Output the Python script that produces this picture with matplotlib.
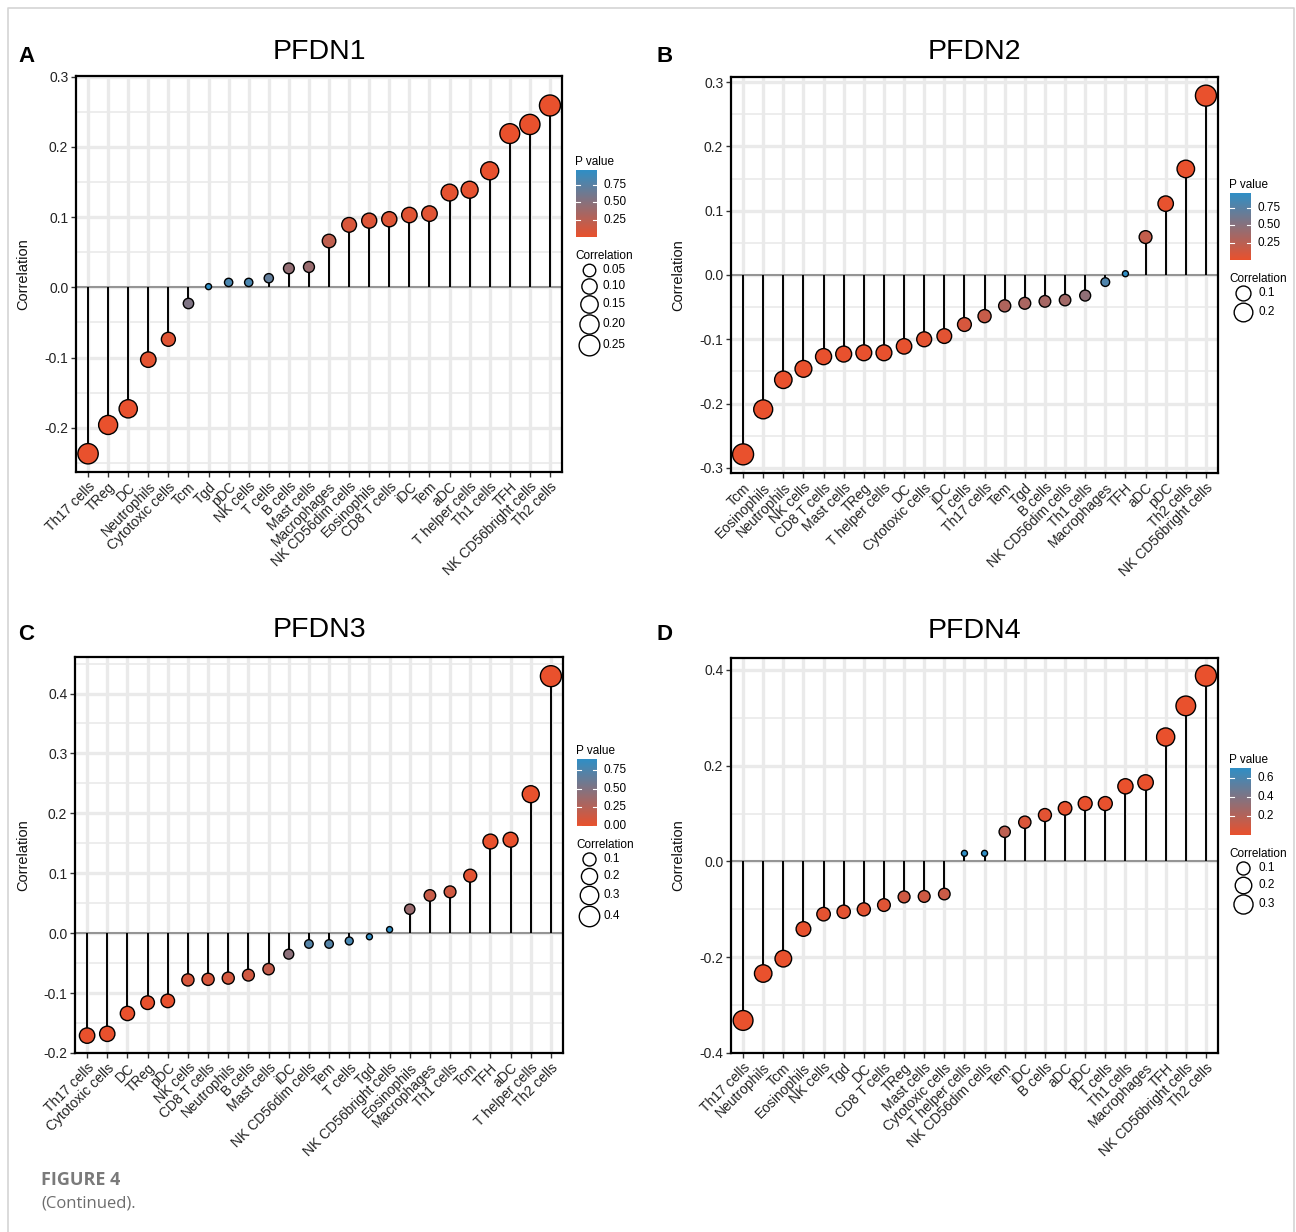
import numpy as np
import matplotlib.pyplot as plt
from matplotlib.colors import LinearSegmentedColormap, Normalize

plt.rcParams['font.family'] = ['Liberation Sans', 'DejaVu Sans']

W, H = 1296, 1232

# ---- datos ----
genes = ["PFDN1", "PFDN2", "PFDN3", "PFDN4"]
letters = ["A", "B", "C", "D"]

cells_a = ["Th17 cells", "TReg", "DC", "Neutrophils", "Cytotoxic cells", "Tcm", "Tgd", "pDC",
           "NK cells", "T cells", "B cells", "Mast cells", "Macrophages", "NK CD56dim cells",
           "Eosinophils", "CD8 T cells", "iDC", "Tem", "aDC", "T helper cells", "Th1 cells",
           "TFH", "NK CD56bright cells", "Th2 cells"]
cor_a = [-0.237, -0.196, -0.173, -0.103, -0.074, -0.023, 0.001, 0.007, 0.007, 0.013, 0.027,
         0.029, 0.066, 0.089, 0.095, 0.097, 0.103, 0.105, 0.135, 0.139, 0.166, 0.219, 0.232, 0.259]
p_a = [0.001, 0.002, 0.006, 0.03, 0.05, 0.55, 0.97, 0.82, 0.82, 0.70, 0.45, 0.42, 0.22, 0.09,
       0.07, 0.06, 0.05, 0.05, 0.02, 0.02, 0.005, 0.001, 0.001, 0.001]

cells_b = ["Tcm", "Eosinophils", "Neutrophils", "NK cells", "CD8 T cells", "Mast cells", "TReg",
           "T helper cells", "DC", "Cytotoxic cells", "iDC", "T cells", "Th17 cells", "Tem", "Tgd",
           "B cells", "NK CD56dim cells", "Th1 cells", "Macrophages", "TFH", "aDC", "pDC",
           "Th2 cells", "NK CD56bright cells"]
cor_b = [-0.279, -0.209, -0.163, -0.146, -0.127, -0.123, -0.121, -0.121, -0.111, -0.100, -0.095,
         -0.077, -0.064, -0.048, -0.044, -0.041, -0.039, -0.032, -0.011, 0.002, 0.059, 0.111,
         0.165, 0.279]
p_b = [0.0, 0.0, 0.001, 0.003, 0.008, 0.008, 0.009, 0.009, 0.015, 0.03, 0.04, 0.10, 0.18, 0.30,
       0.33, 0.35, 0.37, 0.47, 0.80, 0.97, 0.20, 0.015, 0.0, 0.0]

cells_c = ["Th17 cells", "Cytotoxic cells", "DC", "TReg", "pDC", "NK cells", "CD8 T cells",
           "Neutrophils", "B cells", "Mast cells", "iDC", "NK CD56dim cells", "Tem", "T cells",
           "Tgd", "NK CD56bright cells", "Eosinophils", "Macrophages", "Th1 cells", "Tcm", "TFH",
           "aDC", "T helper cells", "Th2 cells"]
cor_c = [-0.171, -0.168, -0.134, -0.116, -0.113, -0.078, -0.077, -0.075, -0.070, -0.060, -0.035,
         -0.018, -0.018, -0.013, -0.006, 0.006, 0.040, 0.063, 0.069, 0.096, 0.153, 0.156, 0.232,
         0.429]
p_c = [0.0, 0.0, 0.003, 0.01, 0.01, 0.09, 0.09, 0.10, 0.12, 0.18, 0.45, 0.72, 0.72, 0.78, 0.88,
       0.90, 0.38, 0.16, 0.12, 0.03, 0.001, 0.001, 0.0, 0.0]

cells_d = ["Th17 cells", "Neutrophils", "Tcm", "Eosinophils", "NK cells", "Tgd", "DC",
           "CD8 T cells", "TReg", "Mast cells", "Cytotoxic cells", "T helper cells",
           "NK CD56dim cells", "Tem", "iDC", "B cells", "aDC", "pDC", "T cells", "Th1 cells",
           "Macrophages", "TFH", "NK CD56bright cells", "Th2 cells"]
cor_d = [-0.332, -0.234, -0.203, -0.141, -0.110, -0.105, -0.100, -0.091, -0.074, -0.073, -0.068,
         0.017, 0.017, 0.062, 0.082, 0.097, 0.111, 0.121, 0.121, 0.157, 0.165, 0.260, 0.325, 0.388]
p_d = [0.0, 0.0, 0.0, 0.003, 0.02, 0.02, 0.025, 0.04, 0.10, 0.10, 0.12, 0.71, 0.71, 0.17, 0.06,
       0.03, 0.01, 0.006, 0.006, 0.0, 0.0, 0.0, 0.0, 0.0]

yticks_all = [[-0.2, -0.1, 0.0, 0.1, 0.2, 0.3],
              [-0.3, -0.2, -0.1, 0.0, 0.1, 0.2, 0.3],
              [-0.2, -0.1, 0.0, 0.1, 0.2, 0.3, 0.4],
              [-0.4, -0.2, 0.0, 0.2, 0.4]]
ylims = [(-0.263, 0.301), (-0.308, 0.308), (-0.2, 0.461), (-0.4, 0.425)]
size_breaks = [[0.05, 0.10, 0.15, 0.20, 0.25], [0.1, 0.2], [0.1, 0.2, 0.3, 0.4], [0.1, 0.2, 0.3]]
size_labels = [["0.05", "0.10", "0.15", "0.20", "0.25"], ["0.1", "0.2"],
               ["0.1", "0.2", "0.3", "0.4"], ["0.1", "0.2", "0.3"]]
p_breaks = [[0.25, 0.50, 0.75], [0.25, 0.50, 0.75], [0.0, 0.25, 0.50, 0.75], [0.2, 0.4, 0.6]]
p_labels = [["0.25", "0.50", "0.75"], ["0.25", "0.50", "0.75"],
            ["0.00", "0.25", "0.50", "0.75"], ["0.2", "0.4", "0.6"]]

# ---- layout (pixeles) ----
boxes = [(76, 76, 562, 472), (731, 77, 1218, 473), (75, 657, 563, 1053), (731, 658, 1218, 1053)]
bars = [(576, 170, 597, 237), (1230, 193, 1251, 260), (577, 759, 597, 826), (1230, 768, 1251, 835)]
ylabel_x = [30, 685, 30, 685]
title_y = [52, 52, 630, 631]
letter_xy = [(18, 56), (657, 57), (18, 634), (657, 634)]

cmap = LinearSegmentedColormap.from_list("pv", ["#E9512D", "#2F8FC6"])
DMIN, DMAX = 6.0, 21.0


def box(l, t, r, b):
    return [l / W, 1 - b / H, (r - l) / W, (b - t) / H]


def dot_px(v, lo, hi):
    t = np.clip((np.abs(v) - lo) / (hi - lo), 0, 1)
    return DMIN + (DMAX - DMIN) * np.sqrt(t)


def s_pts(d):
    return (d * 72 / 100) ** 2


fig = plt.figure(figsize=(W / 100, H / 100), dpi=100)
ov = fig.add_axes([0, 0, 1, 1])
ov.set_xlim(0, W)
ov.set_ylim(H, 0)
ov.axis('off')

# marco de la pagina
ov.plot([8, 8, 1294, 1294], [1240, 8, 8, 1240], color='#D4D4D4', lw=1.2)

panels = [(cells_a, cor_a, p_a), (cells_b, cor_b, p_b), (cells_c, cor_c, p_c), (cells_d, cor_d, p_d)]

for i, (cells, cor, pv) in enumerate(panels):
    cor = np.array(cor)
    pv = np.array(pv)
    l, t, r, b = boxes[i]
    ax = fig.add_axes(box(l, t, r, b))
    x = np.arange(len(cells))
    norm = Normalize(pv.min(), pv.max())
    lo, hi = np.abs(cor).min(), np.abs(cor).max()

    yt = yticks_all[i]
    step = yt[1] - yt[0]
    y0, y1 = ylims[i]
    minor = np.arange(yt[0] - step / 2, yt[-1] + step, step)
    minor = minor[(minor > y0) & (minor < y1)]
    ax.set_yticks(yt)
    ax.set_yticklabels([f"{v:.1f}" for v in yt])
    ax.set_yticks(minor, minor=True)
    ax.set_xticks(x)
    ax.set_xticklabels(cells, rotation=45, ha='right', va='top', rotation_mode='anchor')
    ax.set_xlim(-0.6, len(cells) - 0.4)
    ax.set_ylim(y0, y1)
    ax.grid(True, which='major', color='#EAEAEA', lw=2.4)
    ax.grid(True, which='minor', axis='y', color='#EAEAEA', lw=1.2)
    ax.set_axisbelow(True)
    ax.tick_params(which='minor', length=0)
    ax.tick_params(which='major', direction='out', length=3.5, width=1, color='#333333',
                   labelsize=10, labelcolor='#222222', pad=2)
    for sp in ax.spines.values():
        sp.set_linewidth(1.6)
        sp.set_color('black')

    ax.axhline(0, color='#8C8C8C', lw=1.3, zorder=2)
    ax.vlines(x, 0, cor, colors='black', lw=1.4, zorder=3)
    ax.scatter(x, cor, s=s_pts(dot_px(cor, lo, hi)), c=pv, cmap=cmap, norm=norm,
               edgecolors='black', linewidths=1.0, zorder=4, clip_on=False)
    ax.set_ylim(y0, y1)

    ax.set_ylabel("Correlation", fontsize=10.5, color='#111111')
    ax.yaxis.set_label_coords((ylabel_x[i] - l) / (r - l), 0.5)

    # titulo y letra
    ov.text((l + r) / 2, title_y[i], genes[i], fontsize=20.5, ha='center', va='center')
    ov.text(letter_xy[i][0], letter_xy[i][1], letters[i], fontsize=16, fontweight='bold',
            ha='left', va='center')

    # barra de color P value
    bl, bt, br, bb = bars[i]
    ov.text(bl - 1, bt - 8, "P value", fontsize=8.5, ha='left', va='center')
    cax = fig.add_axes(box(bl, bt, br, bb))
    grad = np.linspace(pv.min(), pv.max(), 256).reshape(-1, 1)
    cax.imshow(grad, aspect='auto', cmap=cmap, norm=norm, origin='lower',
               extent=[0, 1, pv.min(), pv.max()])
    cax.set_xlim(0, 1)
    cax.set_ylim(pv.min(), pv.max())
    cax.axis('off')
    for tv, tl in zip(p_breaks[i], p_labels[i]):
        cax.plot([0, 0.2], [tv, tv], color='white', lw=0.8)
        cax.plot([0.8, 1], [tv, tv], color='white', lw=0.8)
        cax.text(1.3, tv, tl, fontsize=8.5, ha='left', va='center', transform=cax.transData,
                 clip_on=False)

    # leyenda de tamano
    ct = bb + 19
    ov.text(bl - 1, ct, "Correlation", fontsize=8.5, ha='left', va='center')
    yk = ct + 6
    cx = (bl + br) / 2 + 2
    for sv, sl in zip(size_breaks[i], size_labels[i]):
        d = dot_px(sv, lo, hi)
        hk = max(16, d + 1.5)
        yc = yk + hk / 2
        ov.scatter([cx], [yc], s=s_pts(d), facecolors='white', edgecolors='black', linewidths=1.0)
        ov.text(cx + 14 + (2 if i % 2 else 0), yc, sl, fontsize=8.5, ha='left', va='center')
        yk += hk

ov.text(41, 1180, "FIGURE 4", fontsize=13, fontweight='bold', color='#7A7A7A',
        family=['Open Sans', 'DejaVu Sans'], ha='left', va='center')
ov.text(41, 1204, "(Continued).", fontsize=12, color='#6E6E6E',
        family=['Open Sans', 'DejaVu Sans'], ha='left', va='center')

fig.savefig("out.png", dpi=100)
